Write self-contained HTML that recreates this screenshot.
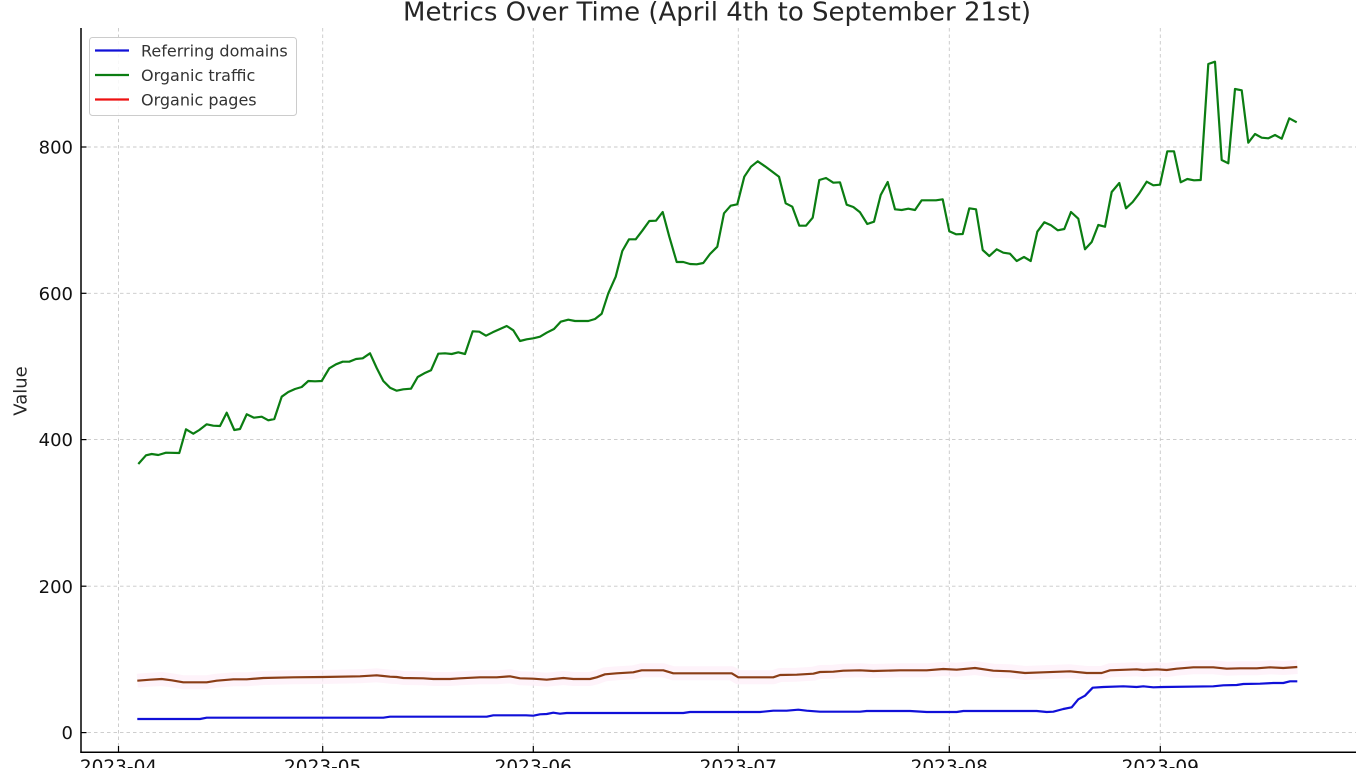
<!DOCTYPE html>
<html>
<head>
<meta charset="utf-8">
<style>
  html,body{margin:0;padding:0;background:#fff;}
  svg{display:block;}
  text{font-family:"DejaVu Sans","Liberation Sans",sans-serif;}
</style>
</head>
<body>
<svg width="1366" height="768" viewBox="0 0 1366 768" xmlns="http://www.w3.org/2000/svg">
  <rect x="0" y="0" width="1366" height="768" fill="#ffffff"/>

  <!-- Title -->
  <text x="717" y="20.5" font-size="26" fill="#262626" text-anchor="middle">Metrics Over Time (April 4th to September 21st)</text>

  <!-- Grid lines -->
  <g stroke="#c8c8c8" stroke-width="0.9" stroke-dasharray="3.5,3" fill="none">
    <line x1="118.5" y1="28" x2="118.5" y2="752"/>
    <line x1="322.7" y1="28" x2="322.7" y2="752"/>
    <line x1="533.3" y1="28" x2="533.3" y2="752"/>
    <line x1="738.3" y1="28" x2="738.3" y2="752"/>
    <line x1="949.3" y1="28" x2="949.3" y2="752"/>
    <line x1="1160.3" y1="28" x2="1160.3" y2="752"/>
    <line x1="81" y1="732.6" x2="1356" y2="732.6"/>
    <line x1="81" y1="586.2" x2="1356" y2="586.2"/>
    <line x1="81" y1="439.6" x2="1356" y2="439.6"/>
    <line x1="81" y1="293.3" x2="1356" y2="293.3"/>
    <line x1="81" y1="147" x2="1356" y2="147"/>
  </g>

  <!-- Organic pages halo -->
  <polyline fill="none" stroke="#fdeef8" stroke-width="14" stroke-linejoin="round" opacity="0.7"
    points="137.3,680.7 150,679.7 161.7,679 171.7,680.3 183.3,682.3 206.7,682.3 216.7,680.7 233.3,679.3 246.7,679.3 263.3,678 293.3,677.3 323.3,677 360,676.3 376.7,675.3 390,676.7 396.7,677 403.3,678 423.3,678.3 433.3,679 450,679 460,678.3 480,677.3 496.7,677.3 510,676.3 520,678.3 533.3,678.7 546.7,679.7 563.3,678 573.3,679 590,679 596.7,677.3 605,674.3 616.7,673.3 633.3,672.3 641.7,670.3 663.3,670.3 673.3,673.3 693.3,673.3 731.7,673.3 738.3,677.3 746.7,677.3 773.3,677.3 780,675 796.7,674.7 813.3,673.7 820,672 833.3,671.7 843.3,670.7 860,670.3 873.3,671 900,670.3 920,670.3 926.7,670.3 943.3,669 956.7,669.7 975,668 993.3,670.7 1010,671.3 1025,673 1043.3,672.3 1070,671.3 1086.7,673 1101.7,673 1110,670.3 1136.7,669.3 1143.3,670 1156.7,669.3 1166.7,670 1176.7,668.7 1193.3,667.3 1213.3,667.3 1226.7,668.7 1240,668.3 1256.7,668.3 1270,667.3 1283.3,668 1297.3,667"/>

  <!-- Referring domains (blue) -->
  <polyline fill="none" stroke="#1010d8" stroke-width="2.2" stroke-linejoin="round"
    points="137.3,719 200,719 206.7,717.7 383.3,717.7 390,716.7 486.7,716.7 493.3,715.3 526,715.3 533.3,715.7 540,714.3 546.7,714 553.3,712.7 560,713.7 566.7,713 683.3,713 690,712 760,712 773.3,710.7 786.7,710.7 798.3,709.7 806.7,710.7 820,711.7 860,711.7 866.7,711 910,711 926.7,712 956.7,712 963.3,711 1036.7,711 1046.7,712 1053.3,711.7 1063.3,709 1071.7,707.3 1078.3,699.3 1085,695.7 1092.7,687.7 1103.3,687 1123.3,686.3 1136.7,687 1143.3,686.3 1153.3,687.3 1163.3,687 1213.3,686.3 1223.3,685.3 1236.7,685 1243.3,684 1260,683.7 1273.3,683 1283.3,683 1290,681.3 1297.3,681.3"/>

  <!-- Organic traffic (green) -->
  <polyline fill="none" stroke="#0b7d12" stroke-width="2.2" stroke-linejoin="round"
    points="138.3,464 146,455.3 151.7,454 158.3,455 166,452.7 179.3,453 186,429.3 193.3,433.7 199.3,430 206.7,424.3 213.3,425.7 220,426 226.7,412.7 234.3,430 240,429 246.7,414.3 254,417.7 261.7,416.7 268.3,420.3 274.3,419 281.7,396.7 288.3,392 295,389 301.7,387 308.3,381 315,381.3 321.7,381 329.3,368.3 336,364.3 342.7,361.7 349.3,361.7 356,359 362.7,358.3 370,353.3 376.7,368 383.3,381 390,387.7 396.7,390.7 403.3,389.3 411,388.7 417.7,377 424.3,373.3 431,370.3 438.3,353.7 445,353.3 451.7,354 458.3,352.3 465,354 472.7,331.3 479.3,331.7 486,335.7 492.7,332.3 500,329 506.7,326 513.3,330.3 520,341 526.7,339.3 533.3,338.3 540,336.7 546.7,332.7 554,329 560.7,321.7 568.3,319.7 575,321 581.7,321 588.3,321 595,319 601.7,313.7 608.3,293.3 615.7,276.7 622.3,251 629,239.3 635.7,239.3 642.3,230.7 649.3,221 656,220.7 662.7,212 669.3,236.7 676.7,262 683.3,262 690,264 696.7,264.3 703.3,263 710,254 717.3,246.7 724,213.3 730.7,205.7 737.3,204.3 744.3,176.7 751,166.7 757.7,161.3 765,166.3 771.7,171.3 779,176.7 785.7,203.3 792.3,206.7 799.3,225.7 806,225.7 812.7,217.7 819.3,180 826,178 833.3,182.7 840,182.3 846.7,204.7 853.3,207 860,212.3 867.3,224 874,221.7 880.7,195 887.7,182 895,209.3 901.7,210 908.3,208.7 915,210 921.7,200.3 929.3,200.3 936,200.3 942.7,199.3 949.3,231.3 956,234.3 962.7,234 969.3,208.3 976,209.3 982.7,250 989.3,256 996.7,249.3 1003.3,252.7 1010,253.7 1016.7,261 1024,257 1030.7,261 1037.3,231.7 1044.3,222.3 1051,225.3 1057.7,230.3 1064.3,229 1071,212 1078.3,218.7 1085,249.3 1091.7,242 1098.3,225 1105,226.7 1111.7,192 1119.3,183 1126,208.3 1132.7,202 1139.3,193.3 1146.7,181.7 1153.3,185.3 1160,184.7 1167.3,151.3 1174,151.3 1180.7,182.3 1187.3,179 1194,180.3 1200.7,180 1208.3,64 1215,61.7 1221.7,160 1228.3,163.3 1235,89 1241.7,90.3 1248.3,142.7 1255,134 1261.7,137.7 1268.3,138.3 1275,135 1281.7,138.7 1289.3,118.3 1296.7,122.3"/>

  <!-- Organic pages (brownish red) -->
  <polyline fill="none" stroke="#8a3d16" stroke-width="2.2" stroke-linejoin="round"
    points="137.3,680.7 150,679.7 161.7,679 171.7,680.3 183.3,682.3 206.7,682.3 216.7,680.7 233.3,679.3 246.7,679.3 263.3,678 293.3,677.3 323.3,677 360,676.3 376.7,675.3 390,676.7 396.7,677 403.3,678 423.3,678.3 433.3,679 450,679 460,678.3 480,677.3 496.7,677.3 510,676.3 520,678.3 533.3,678.7 546.7,679.7 563.3,678 573.3,679 590,679 596.7,677.3 605,674.3 616.7,673.3 633.3,672.3 641.7,670.3 663.3,670.3 673.3,673.3 693.3,673.3 731.7,673.3 738.3,677.3 746.7,677.3 773.3,677.3 780,675 796.7,674.7 813.3,673.7 820,672 833.3,671.7 843.3,670.7 860,670.3 873.3,671 900,670.3 920,670.3 926.7,670.3 943.3,669 956.7,669.7 975,668 993.3,670.7 1010,671.3 1025,673 1043.3,672.3 1070,671.3 1086.7,673 1101.7,673 1110,670.3 1136.7,669.3 1143.3,670 1156.7,669.3 1166.7,670 1176.7,668.7 1193.3,667.3 1213.3,667.3 1226.7,668.7 1240,668.3 1256.7,668.3 1270,667.3 1283.3,668 1297.3,667"/>

  <!-- Spines -->
  <line x1="81" y1="28" x2="81" y2="752.8" stroke="#000" stroke-width="1.5"/>
  <line x1="80.3" y1="752.3" x2="1356" y2="752.3" stroke="#000" stroke-width="1.5"/>

  <!-- Y ticks (inward) -->
  <g stroke="#000" stroke-width="1.2">
    <line x1="81" y1="732.6" x2="86.5" y2="732.6"/>
    <line x1="81" y1="586.2" x2="86.5" y2="586.2"/>
    <line x1="81" y1="439.6" x2="86.5" y2="439.6"/>
    <line x1="81" y1="293.3" x2="86.5" y2="293.3"/>
    <line x1="81" y1="147" x2="86.5" y2="147"/>
  </g>
  <!-- X ticks (inward) -->
  <g stroke="#000" stroke-width="1.2">
    <line x1="118.5" y1="746" x2="118.5" y2="752"/>
    <line x1="322.7" y1="746" x2="322.7" y2="752"/>
    <line x1="533.3" y1="746" x2="533.3" y2="752"/>
    <line x1="738.3" y1="746" x2="738.3" y2="752"/>
    <line x1="949.3" y1="746" x2="949.3" y2="752"/>
    <line x1="1160.3" y1="746" x2="1160.3" y2="752"/>
  </g>

  <!-- Y tick labels -->
  <g font-size="18" fill="#111" text-anchor="end">
    <text x="73" y="739.2">0</text>
    <text x="73" y="592.8">200</text>
    <text x="73" y="446.2">400</text>
    <text x="73" y="299.9">600</text>
    <text x="73" y="153.6">800</text>
  </g>

  <!-- X tick labels -->
  <g font-size="18.5" fill="#111" text-anchor="middle">
    <text x="118.5" y="773">2023-04</text>
    <text x="322.7" y="773">2023-05</text>
    <text x="533.3" y="773">2023-06</text>
    <text x="738.3" y="773">2023-07</text>
    <text x="949.3" y="773">2023-08</text>
    <text x="1160.3" y="773">2023-09</text>
  </g>

  <!-- Y axis label -->
  <text x="0" y="0" font-size="18" fill="#262626" text-anchor="middle" transform="translate(26.5,391) rotate(-90)">Value</text>

  <!-- Legend -->
  <rect x="89.5" y="37.5" width="207" height="78" rx="3" ry="3" fill="#ffffff" fill-opacity="0.85" stroke="#cccccc" stroke-width="1"/>
  <line x1="95" y1="50.5" x2="129" y2="50.5" stroke="#1010d8" stroke-width="2.2"/>
  <line x1="95" y1="75" x2="129" y2="75" stroke="#0b7d12" stroke-width="2.2"/>
  <line x1="95" y1="99.5" x2="129" y2="99.5" stroke="#ee1111" stroke-width="2.2"/>
  <g font-size="16" fill="#333">
    <text x="141" y="56.5">Referring domains</text>
    <text x="141" y="81">Organic traffic</text>
    <text x="141" y="105.5">Organic pages</text>
  </g>
</svg>
</body>
</html>
